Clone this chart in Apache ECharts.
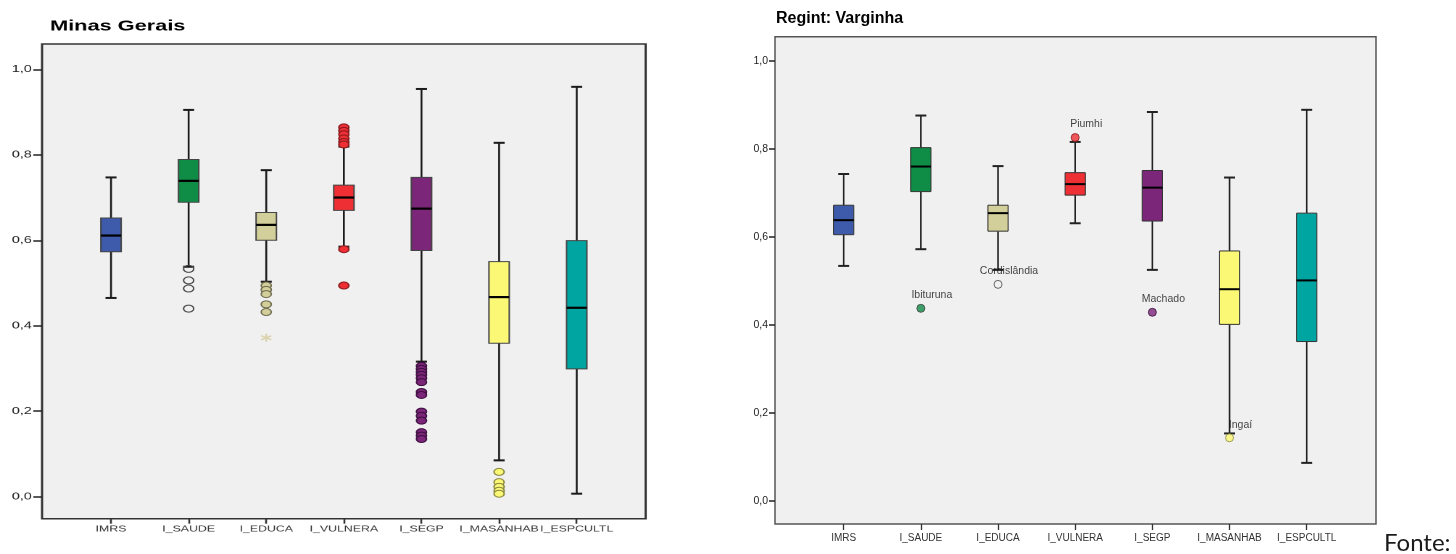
<!DOCTYPE html>
<html><head><meta charset="utf-8">
<script src="https://cdn.jsdelivr.net/npm/echarts@6/dist/echarts.min.js"></script>
<style>
html,body{margin:0;padding:0;background:#fff;width:1456px;height:554px;overflow:hidden;}
#mg{position:absolute;left:0;top:0;width:497px;height:554px;transform:scaleX(1.45);transform-origin:0 0;}
#vg{position:absolute;left:720px;top:0;width:736px;height:554px;}
</style></head><body>
<div id="mg"></div><div id="vg"></div>
<script>
// ---------- data ----------
const categories = ['IMRS','I_SAUDE','I_EDUCA','I_VULNERA','I_SEGP','I_MASANHAB','I_ESPCULTL'];
const yTicks = [0, 0.2, 0.4, 0.6, 0.8, 1.0];

// Minas Gerais
const mgLow    = [0.465, 0.538, 0.503, 0.585, 0.316, 0.085, 0.007];
const mgQ1     = [0.573, 0.689, 0.600, 0.670, 0.576, 0.359, 0.299];
const mgMedian = [0.611, 0.739, 0.636, 0.700, 0.674, 0.467, 0.442];
const mgQ3     = [0.652, 0.789, 0.665, 0.729, 0.747, 0.550, 0.599];
const mgHigh   = [0.747, 0.905, 0.764, 0.819, 0.954, 0.828, 0.959];
const mgOutSaude    = [0.533, 0.506, 0.487, 0.440];
const mgOutEduca    = [0.494, 0.484, 0.474, 0.450, 0.432];
const mgExtremeEduca = [0.372];
const mgOutVulnera  = [0.864, 0.856, 0.848, 0.838, 0.830, 0.824, 0.579, 0.494];
const mgOutSegp     = [0.306, 0.299, 0.292, 0.285, 0.277, 0.268, 0.245, 0.238, 0.199, 0.189, 0.178, 0.151, 0.143, 0.135];
const mgOutMasanhab = [0.058, 0.034, 0.023, 0.014, 0.007];

// Regint: Varginha
const vgLow    = [0.534, 0.572, 0.525, 0.631, 0.525, 0.153, 0.086];
const vgQ1     = [0.605, 0.703, 0.613, 0.695, 0.636, 0.401, 0.362];
const vgMedian = [0.638, 0.760, 0.654, 0.720, 0.712, 0.481, 0.501];
const vgQ3     = [0.672, 0.803, 0.672, 0.746, 0.751, 0.568, 0.654];
const vgHigh   = [0.743, 0.876, 0.761, 0.816, 0.884, 0.735, 0.889];
const vgOutCats   = ['I_SAUDE', 'I_EDUCA', 'I_VULNERA', 'I_SEGP', 'I_MASANHAB'];
const vgOutValues = [0.4375, 0.492, 0.826, 0.4285, 0.143];
const vgOutNames  = ['Ibituruna', 'Cordislândia', 'Piumhi', 'Machado', 'Ingaí'];

// ---------- styles ----------
const boxColors = ['#3e5bab', '#0f8c46', '#d3cf9a', '#ee3035', '#7b2678', '#fbf875', '#00a5a1'];
const outBorder = ['#222', '#444', '#6f6c50', '#8a1a1e', '#3e1040', '#8a8840', '#044'];
const FONT = '"Liberation Sans", Arial, sans-serif';

function boxRender(st) {
  return function (params, api) {
    const i = api.value(0);
    const lo = api.coord([i, api.value(1)]);
    const q1 = api.coord([i, api.value(2)]);
    const md = api.coord([i, api.value(3)]);
    const q3 = api.coord([i, api.value(4)]);
    const hi = api.coord([i, api.value(5)]);
    const band = api.size([1, 0])[0];
    const bw = band * 0.131, cw = band * 0.071, cx = md[0];
    const ws = { stroke: st.whisker, lineWidth: st.whiskerWidth };
    const cs = { stroke: st.whisker, lineWidth: st.capWidth };
    return { type: 'group', children: [
      { type: 'line', shape: { x1: cx, y1: q3[1], x2: cx, y2: hi[1] }, style: ws },
      { type: 'line', shape: { x1: cx, y1: q1[1], x2: cx, y2: lo[1] }, style: ws },
      { type: 'line', shape: { x1: cx - cw, y1: hi[1], x2: cx + cw, y2: hi[1] }, style: cs },
      { type: 'line', shape: { x1: cx - cw, y1: lo[1], x2: cx + cw, y2: lo[1] }, style: cs },
      { type: 'rect', shape: { x: cx - bw, y: q3[1], width: 2 * bw, height: q1[1] - q3[1] },
        style: { fill: boxColors[i], stroke: st.border, lineWidth: st.borderWidth } },
      { type: 'line', shape: { x1: cx - bw, y1: md[1], x2: cx + bw, y2: md[1] },
        style: { stroke: '#000', lineWidth: st.medianWidth } }
    ] };
  };
}

function buildAxes(cfg) {
  const fmt = v => v.toFixed(1).replace('.', ',');
  return {
    grid: [
      { left: cfg.frame[0], top: cfg.frame[1], width: cfg.frame[2], height: cfg.frame[3],
        show: true, backgroundColor: '#f0f0f0', borderColor: cfg.frameColor, borderWidth: 1.5 },
      { left: cfg.inner[0], top: cfg.frame[1], width: cfg.inner[1], height: cfg.frame[3] }
    ],
    xAxis: [
      { type: 'value', gridIndex: 0, show: false, min: 0, max: 1 },
      { type: 'category', gridIndex: 1, data: categories, boundaryGap: true, position: 'bottom',
        axisLine: { show: false, onZero: false },
        axisTick: { show: true, alignWithLabel: true, length: cfg.xTickLen, inside: false,
          lineStyle: { color: '#333', width: 1.3 } },
        axisLabel: { interval: 0, fontSize: cfg.xFont, fontFamily: FONT, color: '#333', margin: cfg.xMargin },
        splitLine: { show: false } }
    ],
    yAxis: [
      { type: 'value', gridIndex: 0, min: cfg.yMin, max: cfg.yMax,
        axisLine: { show: false, onZero: false },
        axisTick: { show: true, customValues: yTicks, length: cfg.yTickLen, lineStyle: { color: '#222', width: 1.5 } },
        axisLabel: { customValues: yTicks, formatter: fmt, fontSize: cfg.yFont, fontFamily: FONT, color: '#222', margin: cfg.yMargin },
        splitLine: { show: false } },
      { type: 'value', gridIndex: 1, min: cfg.yMin, max: cfg.yMax, show: false, splitLine: { show: false } }
    ]
  };
}

function boxData(lo, q1, md, q3, hi) {
  return categories.map((c, i) => [i, lo[i], q1[i], md[i], q3[i], hi[i]]);
}
function pts(cat, vals) {
  const i = categories.indexOf(cat);
  return vals.map(v => [i, v]);
}
function scat(data, color, border, size, extra) {
  return Object.assign({
    type: 'scatter', xAxisIndex: 1, yAxisIndex: 1, data: data, symbol: 'circle', symbolSize: size,
    itemStyle: { color: color, borderColor: border, borderWidth: 1, opacity: 1 }, z: 5, silent: true
  }, extra || {});
}

// ---------- Minas Gerais (left, horizontally stretched like the source) ----------
const mg = echarts.init(document.getElementById('mg'), null, { renderer: 'canvas', devicePixelRatio: 2 });
const mgOpt = buildAxes({
  frame: [28.97, 44, 416.3, 474.7], inner: [49.79, 374.7], frameColor: '#333',
  yMin: -0.0515, yMax: 1.0592, xTickLen: 5, xFont: 8.5, xMargin: 6, yTickLen: 6, yMargin: 7, yFont: 10
});
mgOpt.animation = false;
mgOpt.graphic = [{ type: 'text', x: 34.5, y: 26.5,
  style: { text: 'Minas Gerais', font: 'bold 15px ' + FONT, fill: '#000', verticalAlign: 'middle' } }];
mgOpt.series = [
  { type: 'custom', xAxisIndex: 1, yAxisIndex: 1, renderItem: boxRender({
      whisker: '#1a1a1a', whiskerWidth: 1.3, capWidth: 2, border: '#444', borderWidth: 1, medianWidth: 2.2 }),
    data: boxData(mgLow, mgQ1, mgMedian, mgQ3, mgHigh), encode: { x: 0, y: [1, 2, 3, 4, 5] }, silent: true },
  scat(pts('I_SAUDE', mgOutSaude), 'rgba(0,0,0,0)', '#444', 7),
  scat(pts('I_EDUCA', mgOutEduca), boxColors[2], outBorder[2], 7),
  scat(pts('I_EDUCA', mgExtremeEduca), 'rgba(0,0,0,0)', '#d4cc9c', [7, 8],
    { symbol: 'path://M5,0L5,10M0.7,2.5L9.3,7.5M9.3,2.5L0.7,7.5', itemStyle: { color: 'rgba(0,0,0,0)', borderColor: '#d4cc9c', borderWidth: 1.3 } }),
  scat(pts('I_VULNERA', mgOutVulnera), boxColors[3], outBorder[3], 7),
  scat(pts('I_SEGP', mgOutSegp), boxColors[4], outBorder[4], 7),
  scat(pts('I_MASANHAB', mgOutMasanhab), boxColors[5], outBorder[5], 7)
];
mg.setOption(mgOpt);

// ---------- Regint: Varginha (right) ----------
const vg = echarts.init(document.getElementById('vg'), null, { renderer: 'canvas' });
const vgOpt = buildAxes({
  frame: [55, 36.7, 601, 487.3], inner: [85.1, 540.2], frameColor: '#555',
  yMin: -0.053, yMax: 1.0553, xTickLen: 6, xFont: 10, xMargin: 9, yTickLen: 6, yMargin: 7, yFont: 10.5
});
vgOpt.animation = false;
vgOpt.graphic = [
  { type: 'text', x: 56, y: 18.5,
    style: { text: 'Regint: Varginha', font: 'bold 16px ' + FONT, fill: '#000', verticalAlign: 'middle' } },
  { type: 'text', x: 664, y: 543,
    style: { text: 'Fonte:', font: '24px Lato, "Open Sans", sans-serif', fill: '#1a1a1a', verticalAlign: 'middle' } }
];
const vgOutData = vgOutCats.map((c, k) => {
  const i = categories.indexOf(c);
  const hollow = c === 'I_EDUCA';
  return { value: [i, vgOutValues[k]], itemStyle: {
    color: hollow ? 'rgba(0,0,0,0)' : boxColors[i], borderColor: hollow ? '#444' : outBorder[i], borderWidth: 1 } };
});
vgOpt.series = [
  { type: 'custom', xAxisIndex: 1, yAxisIndex: 1, renderItem: boxRender({
      whisker: '#222', whiskerWidth: 1.6, capWidth: 2, border: '#333', borderWidth: 1, medianWidth: 2 }),
    data: boxData(vgLow, vgQ1, vgMedian, vgQ3, vgHigh), encode: { x: 0, y: [1, 2, 3, 4, 5] }, silent: true },
  { type: 'scatter', xAxisIndex: 1, yAxisIndex: 1, symbol: 'circle', symbolSize: 8, z: 5, silent: true,
    data: vgOutData,
    label: { show: true, position: 'top', distance: 5, offset: [11, 2],
      formatter: p => vgOutNames[p.dataIndex], fontSize: 10.5, fontFamily: FONT, color: '#111' } }
];
vg.setOption(vgOpt);
</script>
</body></html>
